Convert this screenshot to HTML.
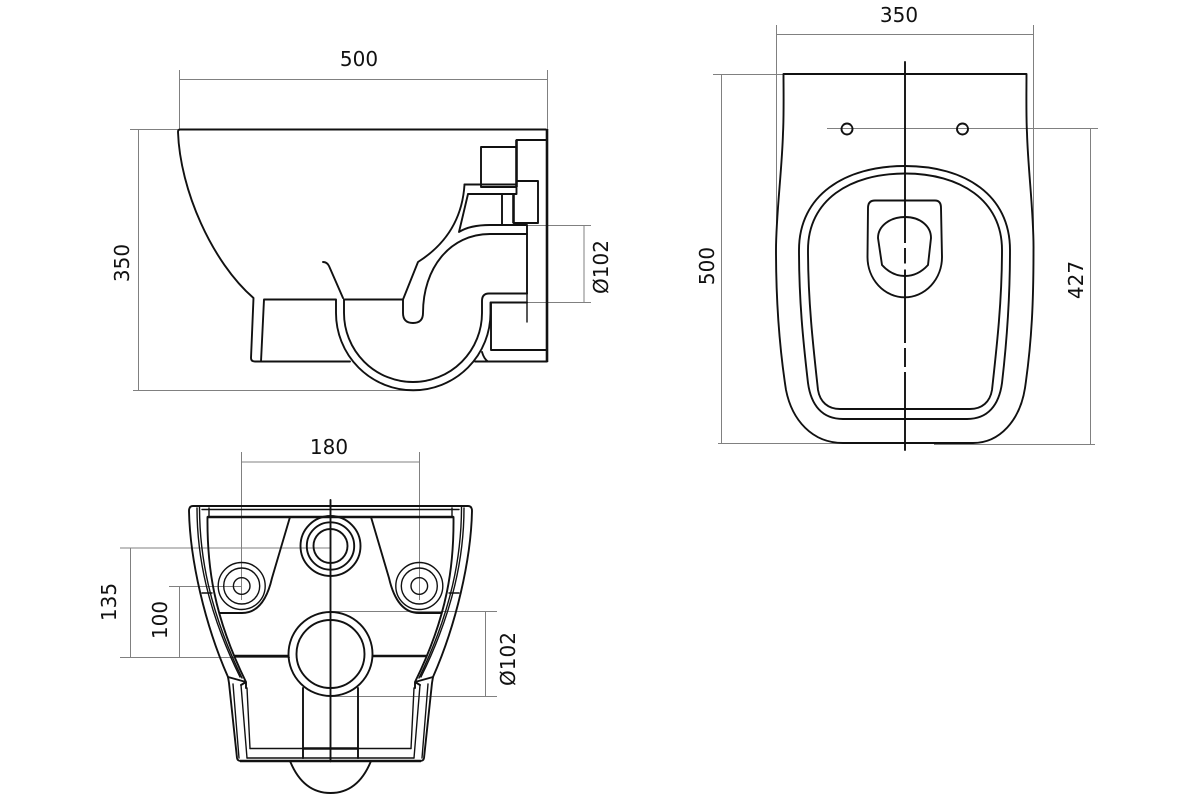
<!DOCTYPE html>
<html>
<head>
<meta charset="utf-8">
<style>
html,body{margin:0;padding:0;background:#fff}
svg{display:block}
text{font-family:"DejaVu Sans",sans-serif;font-size:20px;fill:#111;text-anchor:middle}
.d{stroke:#808080;stroke-width:1;fill:none}
.k{stroke:#111;stroke-width:1.9;fill:none;stroke-linejoin:round;stroke-linecap:round}
.m{stroke:#111;stroke-width:1.4;fill:none;stroke-linejoin:round;stroke-linecap:round}
.t{stroke:#111;stroke-width:2.6;fill:none;stroke-linejoin:round}
</style>
</head>
<body>
<svg width="1200" height="800" viewBox="0 0 1200 800" xmlns="http://www.w3.org/2000/svg">
<!-- Side view dimensions -->
<path class="d" d="M180 79.500H547M179.500 70V129M547.500 70V129M130 129.500H178M138.500 129.500V390.500M133 390.500H413M527 225.500H591M491 302.500H591M584 225.500V302.500"/>
<text x="359" y="66">500</text>
<text transform="translate(129,263) rotate(-90)">350</text>
<text transform="translate(608,267) rotate(-90)">Ø102</text>
<!-- Side view body -->
<path class="k" d="M546 129.500H180Q178 129.500 178 132C180 190 212 262 253.500 298L251 358Q251 361.500 255 361.500H350"/>
<path class="k" d="M264 299.500L261 361.500M264 299.500H336M336 299.500V313A77 77 0 0 0 490.500 313V302.500H527M344 299.500V313A69 69 0 0 0 482 313V301Q482 293.500 489 293.500H527"/>
<path class="k" d="M344 299.500H403V313Q403 323 413 323Q423 323 423 313C423 268 450 234 490 234H527V293.500M403 299.500L418 262C440 248 462 225 464.500 184.500H481"/>
<path class="k" d="M323 262Q327 262 329 266L343 298"/>
<path class="k" d="M481 147H516.500V187H481ZM464.500 184.500H516.500V194H468M468 194L459 232Q470 225 490 225H527V234M502 194V225M475 361.500H547M482 352Q484 359 488 361.500M491 302.500V350H547M516.500 140H547M517 181H538V223H513.500"/>
<path class="m" d="M527 293.500V322"/>
<path class="t" d="M516.500 140V187M513.500 194V223M547 129V362"/>
<!-- Top view dimensions -->
<path class="d" d="M776.500 25V240M1033.500 25V240M776 34.500H1033M713 74.500H783M721.500 74.500V443.500M718 443.500H843M827 128.500H1098M1090.500 129V444M934 444.500H1095"/>
<text x="899" y="22">350</text>
<text transform="translate(714,266) rotate(-90)">500</text>
<text transform="translate(1083,280) rotate(-90)">427</text>
<!-- Top view body -->
<path class="k" d="M783.500 74H1026.500C1026.500 90 1026 115 1027 133C1028 170 1034 215 1033.500 250C1033.500 300 1032 340 1025 388C1020 420 1000 443 973 443H843C812 443 792 420 786 390C779 345 776 300 776 250C776 215 782 170 783 133C784 115 783.500 90 783.500 74Z"/>
<path class="k" d="M905 166C965 166 1010 195 1010 250C1010 300 1007 340 1002 383C999 405 988 419 967 419H843C822 419 811 405 808 383C803 340 799 300 799 250C799 195 845 166 905 166Z"/>
<path class="k" d="M905 173.500C960 173.500 1002 200 1002 250C1002 300 997 345 992 390C990 402 982 409 970 409H840C828 409 820 402 818 390C813 345 808 300 808 250C808 200 850 173.500 905 173.500Z"/>
<path class="k" d="M875 200.500H935Q941 200.500 941 208L942 257A37 40 0 0 1 867.500 257L868 208Q868 200.500 875 200.500Z"/>
<path class="k" d="M905 217C920 217 931 226 931 238L928 265Q918 276 905 276Q892 276 882 265L878 238C878 226 890 217 905 217Z"/>
<path class="k" d="M905 62V450"/>
<path stroke="#fff" stroke-width="3" d="M905 243V248M905 263.500V269.500M905 343V348M905 367V372"/>
<circle class="k" cx="847" cy="129" r="5.500"/>
<circle class="k" cx="962.500" cy="129" r="5.500"/>
<!-- Bottom view dimensions -->
<path class="d" d="M241.500 452V600M419.500 452V600M241 462H420M120 548H330M120 657.500H290M169 586.500H241M130.500 548V657.500M179.500 586.500V657.500M330 611.500H497M330 696.500H497M485.500 611.500V696.500"/>
<text x="329" y="454">180</text>
<text transform="translate(116,602) rotate(-90)">135</text>
<text transform="translate(167,620) rotate(-90)">100</text>
<text transform="translate(515,659) rotate(-90)">Ø102</text>
<!-- Bottom view: left half -->
<g id="h">
<path class="k" d="M331 506H193Q189 506 189 511C190 560 205 625 228 677L229 683L237 758Q237.500 761 241 761H331"/>
<path class="m" d="M197 508C197 555 207 610 240 677M199.500 507C199.500 555 209 610 242 678"/>
<path class="k" d="M207.500 517C207 565 213 615 246 682L241 685M228 677L246 682V688"/>
<path class="m" d="M202 509.500H331M209 508V517M202 593H212"/>
<path class="m" d="M233 684L239 758M241 685L247 758M247 688L250 748.500"/>
<path class="m" d="M250 748.500H331M247 758H331"/>
<path class="t" d="M207.500 517H331M234 656H289M303 748.500H331M240 761H331"/>
<path class="k" d="M290 517L272 578Q264 613 242 613H220"/>
<path class="k" d="M303 688V758"/>
<path class="k" d="M290 761Q303 793 330.500 793"/>
<circle class="m" cx="241.700" cy="586" r="23.500"/>
<circle class="m" cx="241.700" cy="586" r="18"/>
<circle class="m" cx="241.700" cy="586" r="8.300"/>
</g>
<use href="#h" transform="translate(661,0) scale(-1,1)"/>
<path class="k" d="M330.500 500V760"/>
<g class="k">
<circle cx="330.500" cy="546" r="30"/><circle cx="330.500" cy="546" r="23.700"/><circle cx="330.500" cy="546" r="17"/>
<circle cx="330.500" cy="654" r="42"/><circle cx="330.500" cy="654" r="34"/>
</g>
</svg>
</body>
</html>
